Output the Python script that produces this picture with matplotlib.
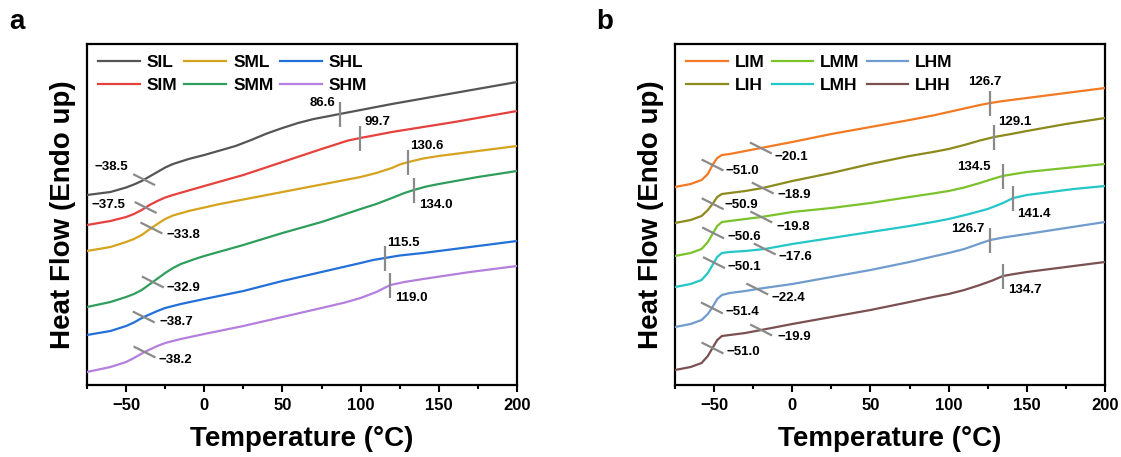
import matplotlib
matplotlib.use("Agg")
import matplotlib.pyplot as plt
import numpy as np

plt.rcParams['font.family'] = ['Liberation Sans', 'DejaVu Sans']
plt.rcParams['font.weight'] = 'bold'

# ---------------- Panel a: S-series DSC curves (heat flow, a.u.) ----------------
T_SIL = [-75, -60, -50, -45, -40, -35, -30, -25, -20, -10, 0, 10, 20, 30, 40, 50, 60, 70, 80, 86.6, 100, 120, 160, 200]
H_SIL = [190, 193, 197.5, 200.5, 204, 208.5, 213, 217.5, 221, 226, 230, 234.5, 239, 245, 251.5, 257, 262, 266, 269, 271, 275, 281, 292, 303]

T_SIM = [-75, -60, -50, -45, -40, -35, -30, -25, -20, -10, 0, 25, 50, 75, 85, 92, 99.7, 110, 120, 160, 200]
H_SIM = [160, 164, 168, 171, 175, 180, 184, 187.5, 190, 194.5, 199, 210, 223, 236, 241, 244.5, 247, 250, 253, 263, 274]

T_SML = [-75, -60, -50, -45, -40, -33.8, -30, -25, -20, -10, 10, 30, 50, 80, 100, 110, 120, 125, 130.6, 140, 150, 175, 200]
H_SML = [134, 138, 143, 146, 150, 157, 161, 166, 169.5, 174, 181, 187, 193, 202, 208, 212, 217, 220.5, 223, 226.5, 229, 234, 239]

T_SMM = [-75, -60, -50, -45, -40, -32.9, -25, -20, -15, -5, 0, 25, 50, 75, 100, 110, 120, 128, 134, 142, 150, 175, 200]
H_SMM = [78, 83, 88, 91, 95, 103, 112, 117, 121, 126.5, 129, 140, 152, 163, 176, 181, 187, 192, 195, 198.5, 201, 208, 214]

T_SHL = [-75, -60, -50, -45, -38.7, -30, -25, -15, 0, 25, 50, 75, 100, 108, 115.5, 125, 140, 170, 200]
H_SHL = [50, 54, 59, 62.5, 68, 74, 77, 81, 86, 94, 104, 113, 122, 125, 127, 129.5, 132, 138, 144]

T_SHM = [-75, -60, -50, -45, -38.2, -30, -25, -15, 0, 25, 50, 75, 90, 100, 110, 119, 128, 140, 170, 200]
H_SHM = [13, 18, 23, 27, 33, 39, 42, 46, 51, 59, 68, 77, 82.5, 87, 93, 100, 103, 106, 113, 119]

# ---------------- Panel b: L-series DSC curves ----------------
T_LIM = [-75, -65, -58, -54, -51, -48, -45, -40, -30, -20.1, 0, 25, 50, 75, 90, 100, 110, 120, 126.7, 135, 150, 175, 200]
H_LIM = [198, 201, 205, 211, 220, 227, 230, 231, 234, 237, 243, 251, 258, 265, 269.5, 273, 276.5, 280, 282, 284, 287, 292, 297]

T_LIH = [-75, -65, -58, -54, -51, -48, -45, -40, -30, -18.9, 0, 25, 50, 75, 90, 100, 110, 120, 129.1, 140, 150, 175, 200]
H_LIH = [162, 165, 169, 175, 181, 188, 191, 192, 194, 197, 204, 212, 221, 229, 233, 236, 240, 244.5, 248, 251, 254, 261, 267]

T_LMM = [-75, -65, -58, -54, -51, -48, -45, -40, -30, -19.8, 0, 25, 50, 75, 90, 100, 110, 120, 128, 134.5, 142, 150, 175, 200]
H_LMM = [129, 132, 136, 143, 151, 159, 163, 164, 166, 168, 173, 177, 182, 188, 191.5, 194, 197.5, 202, 206, 209, 211, 213, 217, 221]

T_LMH = [-75, -65, -58, -54, -51, -48, -45, -40, -30, -17.6, 0, 25, 50, 75, 90, 100, 112, 125, 134, 141.4, 150, 160, 180, 200]
H_LMH = [98, 101, 105, 112, 120, 128, 132, 133, 134, 136, 141, 147, 153, 159, 163, 166, 170.5, 176, 181.5, 187, 190, 192, 196, 199]

T_LHM = [-75, -65, -58, -54, -51, -48, -45, -40, -30, -22.4, 0, 25, 50, 75, 90, 100, 110, 120, 126.7, 135, 150, 175, 200]
H_LHM = [58, 61, 65, 71, 78, 86, 90, 92, 94, 96, 101, 108, 115, 123, 128.5, 132, 136, 141.5, 145, 147.5, 151, 157, 163]

T_LHH = [-75, -65, -58, -54, -51, -48, -45, -40, -30, -19.9, 0, 25, 50, 75, 90, 100, 110, 120, 128, 134.7, 142, 150, 175, 200]
H_LHH = [15, 18, 22, 29, 37, 45, 49, 50, 52, 55, 61, 68, 75, 83, 88, 91, 95, 100, 104.5, 109, 111, 113, 118, 123]

# Transition temperatures marked on each curve
TG_LOW_A = {"SIL": -38.5, "SIM": -37.5, "SML": -33.8, "SMM": -32.9, "SHL": -38.7, "SHM": -38.2}
TG_HIGH_A = {"SIL": 86.6, "SIM": 99.7, "SML": 130.6, "SMM": 134.0, "SHL": 115.5, "SHM": 119.0}
TG_LOW1_B = {"LIM": -51.0, "LIH": -50.9, "LMM": -50.6, "LMH": -50.1, "LHM": -51.4, "LHH": -51.0}
TG_LOW2_B = {"LIM": -20.1, "LIH": -18.9, "LMM": -19.8, "LMH": -17.6, "LHM": -22.4, "LHH": -19.9}
TG_HIGH_B = {"LIM": 126.7, "LIH": 129.1, "LMM": 134.5, "LMH": 141.4, "LHM": 126.7, "LHH": 134.7}

XTICKS = [-50, 0, 50, 100, 150, 200]

curves_a = {"SIL": (T_SIL, H_SIL, "#555555"),
            "SIM": (T_SIM, H_SIM, "#e5423d"),
            "SML": (T_SML, H_SML, "#d6a31e"),
            "SMM": (T_SMM, H_SMM, "#2f9e5c"),
            "SHL": (T_SHL, H_SHL, "#2370d8"),
            "SHM": (T_SHM, H_SHM, "#b57fde")}
curves_b = {"LIM": (T_LIM, H_LIM, "#f27a24"),
            "LIH": (T_LIH, H_LIH, "#8c8a1c"),
            "LMM": (T_LMM, H_LMM, "#7cc22b"),
            "LMH": (T_LMH, H_LMH, "#24c6c8"),
            "LHM": (T_LHM, H_LHM, "#6f9ccd"),
            "LHH": (T_LHH, H_LHH, "#7b5050")}

# label placement (offset in pixels from the marker centre, alignment)
lab_low_a = {"SIL": (-16, 13, "right"), "SIM": (-20, 3, "right"), "SML": (15, -7, "left"),
             "SMM": (14, -6, "left"), "SHL": (16, -5, "left"), "SHM": (14, -8, "left")}
lab_high_a = {"SIL": (-4, 11, "right"), "SIM": (4, 16, "left"), "SML": (2, 16, "left"),
              "SMM": (5, -15, "left"), "SHL": (2, 15, "left"), "SHM": (5, -13, "left")}
lab_low1_b = {k: (14, -4, "left") for k in curves_b}
lab_low1_b["LIM"] = (13, -6, "left")
lab_low1_b["LIH"] = (12, -1, "left")
lab_low2_b = {"LIM": (14, -9, "left"), "LIH": (15, -7, "left"), "LMM": (15, -10, "left"),
              "LMH": (14, -8, "left"), "LHM": (14, -9, "left"), "LHH": (16, -7, "left")}
lab_high_b = {"LIM": (-6, 21, "center"), "LIH": (4, 15, "left"), "LMM": (-12, 9, "right"),
              "LMH": (4, -16, "left"), "LHM": (-6, 11, "right"), "LHH": (5, -14, "left")}

MARK_COLOR = "#8a8a8a"
DPI = 100
fig = plt.figure(figsize=(11.21, 4.57), dpi=DPI)
ax_a = fig.add_axes([87 / 1121, 1 - 385 / 457, 430 / 1121, 341 / 457])
ax_b = fig.add_axes([675 / 1121, 1 - 385 / 457, 430 / 1121, 341 / 457])


def fmt(v):
    return ("\u2212%.1f" % abs(v)) if v < 0 else "%.1f" % v


def mark(ax, T, H, tg, kind, off):
    h = float(np.interp(tg, T, H))
    if kind == "diag":
        ax.plot([tg - 7, tg + 7], [h + 5.5, h - 5.5], color=MARK_COLOR, lw=1.6,
                solid_capstyle="butt", zorder=4)
    else:
        ax.plot([tg, tg], [h - 12.5, h + 12.5], color=MARK_COLOR, lw=1.6,
                solid_capstyle="butt", zorder=4)
    dx, dy, ha = off
    ax.annotate(fmt(tg), (tg, h), xytext=(dx, dy), textcoords="offset pixels",
                ha=ha, va="center", fontsize=9.5, fontweight="bold", color="black",
                zorder=5)


def style(ax, letter, letter_x):
    ax.set_xlim(-75, 200)
    ax.set_ylim(0, 341)
    ax.set_xticks(XTICKS)
    ax.set_xticks([-75, -25, 25, 75, 125, 175], minor=True)
    ax.set_yticks([])
    ax.tick_params(axis="x", which="major", direction="out", length=5, width=1.5,
                   labelsize=12, pad=4)
    ax.tick_params(axis="x", which="minor", direction="out", length=3, width=1.5)
    for lab in ax.get_xticklabels():
        lab.set_fontweight("bold")
    for sp in ax.spines.values():
        sp.set_linewidth(1.6)
    ax.set_xlabel("Temperature (\u00b0C)", fontsize=20, fontweight="bold", labelpad=10)
    ax.set_ylabel("Heat Flow (Endo up)", fontsize=20, fontweight="bold", labelpad=8)
    fig.text(letter_x, 1 - 22 / 457, letter, fontsize=20, fontweight="bold",
             ha="center", va="center")


for name, (T, H, c) in curves_a.items():
    ax_a.plot(T, H, color=c, lw=1.6, label=name, zorder=3)
for name, (T, H, c) in curves_a.items():
    mark(ax_a, T, H, TG_LOW_A[name], "diag", lab_low_a[name])
    mark(ax_a, T, H, TG_HIGH_A[name], "vert", lab_high_a[name])

for name, (T, H, c) in curves_b.items():
    ax_b.plot(T, H, color=c, lw=1.6, label=name, zorder=3)
for name, (T, H, c) in curves_b.items():
    mark(ax_b, T, H, TG_LOW1_B[name], "diag", lab_low1_b[name])
    mark(ax_b, T, H, TG_LOW2_B[name], "diag", lab_low2_b[name])
    mark(ax_b, T, H, TG_HIGH_B[name], "vert", lab_high_b[name])

for ax in (ax_a, ax_b):
    ax.legend(loc="upper left", ncol=3, frameon=False,
              prop={"weight": "bold", "size": 12.5},
              handlelength=2.4, handletextpad=0.4, columnspacing=0.4,
              labelspacing=0.45, borderaxespad=0.3, borderpad=0.35)

style(ax_a, "a", 17 / 1121)
style(ax_b, "b", 605 / 1121)

fig.savefig("out.png", dpi=DPI)
